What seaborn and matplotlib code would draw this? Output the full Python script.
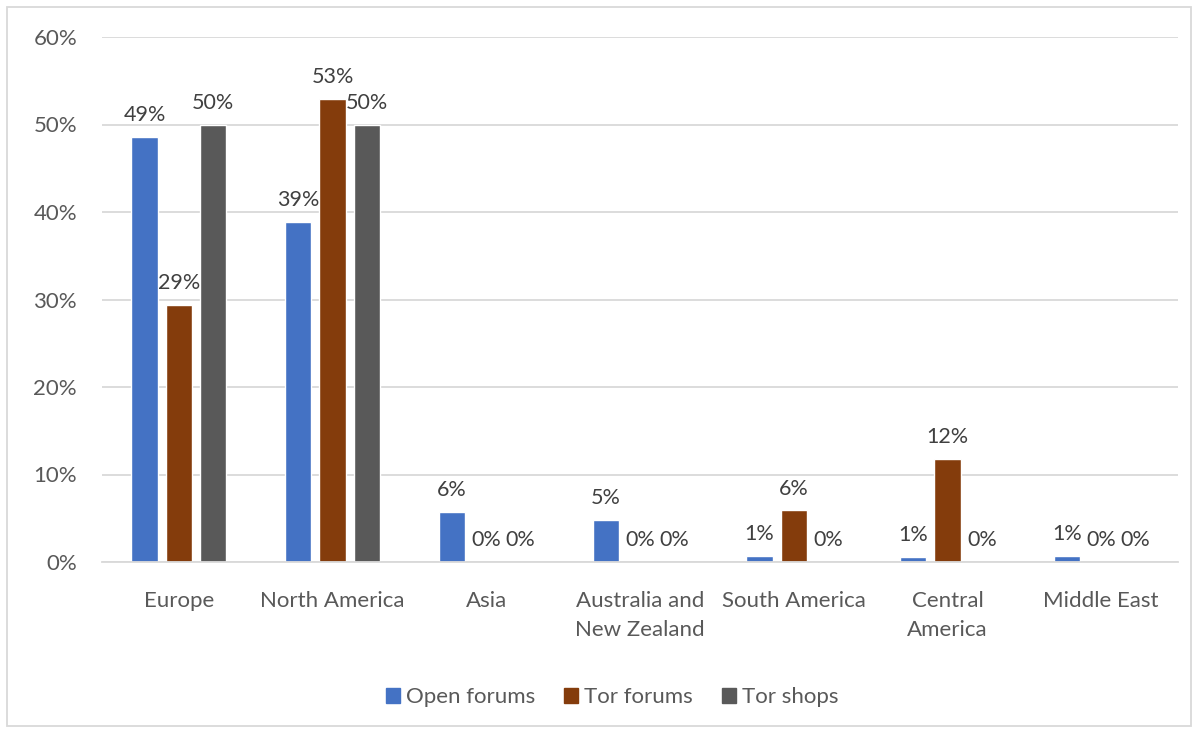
import numpy as np
import pandas as pd
import seaborn as sns
import matplotlib.pyplot as plt
from matplotlib.patches import Rectangle

regions = ["Europe", "North America", "Asia", "Australia and\nNew Zealand",
           "South America", "Central\nAmerica", "Middle East"]
series = ["Open forums", "Tor forums", "Tor shops"]
open_forums = [48.6, 38.9, 5.7, 4.8, 0.7, 0.6, 0.7]
tor_forums = [29.4, 52.9, 0.0, 0.0, 5.9, 11.8, 0.0]
tor_shops = [50.0, 50.0, 0.0, 0.0, 0.0, 0.0, 0.0]
colors = ["#4472C4", "#843C0C", "#595959"]
yticks = [0, 10, 20, 30, 40, 50, 60]

rows = []
for name, vals in zip(series, [open_forums, tor_forums, tor_shops]):
    for r, v in zip(regions, vals):
        rows.append({"region": r, "series": name, "value": v})
df = pd.DataFrame(rows)

sns.set_style("white")
plt.rcParams['font.family'] = ['Lato', 'DejaVu Sans']

fig = plt.figure(figsize=(11.98, 7.31), dpi=100)
ax = fig.add_axes([102/1198, 1-562/731, (1178-102)/1198, (562-37)/731])

sns.barplot(data=df, x="region", y="value", hue="series", order=regions,
            hue_order=series, palette=colors, width=0.67, gap=0.235,
            errorbar=None, legend=False, ax=ax, saturation=1)

for cont in ax.containers:
    labels = [f"{b.get_height():.0f}%" for b in cont]
    ax.bar_label(cont, labels=labels, padding=8.5, fontsize=15.5, color="#404040")

ax.set_ylim(0, 60)
ax.set_yticks(yticks)
ax.set_yticklabels([f"{t}%" for t in yticks])
ax.set_xlim(-0.5, len(regions) - 0.5)
ax.yaxis.grid(True, color="#d9d9d9", linewidth=1.3)
ax.set_axisbelow(True)
for s in ["top", "right", "left"]:
    ax.spines[s].set_visible(False)
ax.spines["bottom"].set_color("#d9d9d9")
ax.spines["bottom"].set_linewidth(1.3)
ax.tick_params(axis="y", length=0, pad=18, labelsize=16, labelcolor="#595959")
ax.tick_params(axis="x", length=0, pad=21, labelsize=16, labelcolor="#595959")
for t in ax.get_xticklabels():
    t.set_linespacing(1.55)
ax.set_xlabel("")
ax.set_ylabel("")

handles = [Rectangle((0, 0), 1, 1, color=c) for c in colors]
fig.legend(handles, series, loc="center", bbox_to_anchor=(612/1198, 1-697/731),
           ncol=3, frameon=False, fontsize=16, labelcolor="#595959",
           handlelength=0.65, handleheight=0.65, handletextpad=0.25,
           columnspacing=1.3)

fig.patches.append(Rectangle((7/1198, 1-726/731), 1184/1198, 719/731,
                             transform=fig.transFigure, fill=False,
                             edgecolor="#d9d9d9", linewidth=1.3))

fig.savefig("out.png", dpi=100)
